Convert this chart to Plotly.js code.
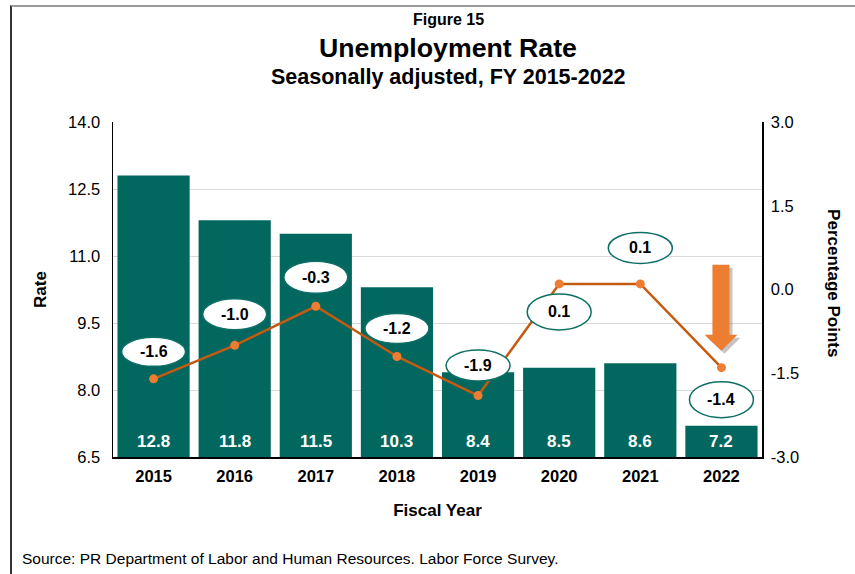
<!DOCTYPE html>
<html>
<head>
<meta charset="utf-8">
<script src="https://cdn.plot.ly/plotly-3.0.1.min.js"></script>
<style>
  html, body { margin: 0; padding: 0; background: #ffffff; }
  #wrap { position: relative; width: 855px; height: 574px; overflow: hidden; }
  #chart { width: 855px; height: 574px; }
  #frame { position: absolute; left: 10px; top: 5px; width: 900px; height: 600px;
           border-top: 2px solid #9a9a9a; border-left: 2px solid #333333; pointer-events: none; }
</style>
</head>
<body>
<div id="wrap">
  <div id="chart"></div>
  <div id="frame"></div>
</div>
<script>
// ---- Data ----
var years = ['2015', '2016', '2017', '2018', '2019', '2020', '2021', '2022'];
var rate = [12.8, 11.8, 11.5, 10.3, 8.4, 8.5, 8.6, 7.2];
var change = [-1.6, -1.0, -0.3, -1.2, -1.9, 0.1, 0.1, -1.4];
var rateTicks = [6.5, 8.0, 9.5, 11.0, 12.5, 14.0];
var rateTickText = ['6.5', '8.0', '9.5', '11.0', '12.5', '14.0'];
var changeTicks = [-3.0, -1.5, 0.0, 1.5, 3.0];
var changeTickText = ['-3.0', '-1.5', '0.0', '1.5', '3.0'];
// label placement (pixels above (+) / below (-) each point) and bubble heights
var labelShift = [27, 31, 29, 28, 30, -28, 36, -32];
var bubbleH = [29, 31, 32, 30, 31, 36, 31, 36];

var FONT = 'Liberation Sans, Arial, Helvetica, sans-serif';
var TEAL = '#02675f';
var LINE = '#c55a11';
var MARK = '#ed7d31';

var bars = {
  type: 'bar', x: years, y: rate, yaxis: 'y', name: 'Rate',
  marker: { color: TEAL, line: { width: 0 } },
  hoverinfo: 'x+y', showlegend: false
};
var line = {
  type: 'scatter', mode: 'lines+markers', x: years, y: change, yaxis: 'y2', name: 'Change',
  line: { color: LINE, width: 2.5 },
  marker: { color: MARK, size: 9 },
  showlegend: false
};

var shapes = [];
var annotations = [];

// bubble labels for the line
for (var i = 0; i < years.length; i++) {
  var h = bubbleH[i] / 2;
  shapes.push({
    type: 'circle', layer: 'above',
    xref: 'x', yref: 'y2', xsizemode: 'pixel', ysizemode: 'pixel',
    xanchor: i, yanchor: change[i],
    x0: -32, x1: 32, y0: labelShift[i] - h, y1: labelShift[i] + h,
    fillcolor: '#ffffff', line: { color: '#0e6f67', width: 1.5 }
  });
  annotations.push({
    xref: 'x', yref: 'y2', x: i, y: change[i], yshift: labelShift[i],
    text: '<b>' + change[i].toFixed(1) + '</b>', showarrow: false,
    font: { family: FONT, size: 16, color: '#000000' },
    xanchor: 'center', yanchor: 'middle'
  });
  // bar value labels
  annotations.push({
    xref: 'x', yref: 'y', x: i, y: rateTicks[0], yshift: 16,
    text: '<b>' + rate[i].toFixed(1) + '</b>', showarrow: false,
    font: { family: FONT, size: 17, color: '#ffffff' },
    xanchor: 'center', yanchor: 'middle'
  });
}

// big orange arrow above the last point (shadow + arrow)
var arrowPath = 'M -9 103 L 8 103 L 8 33 L 16 33 L 0 17 L -17 33 L -9 33 Z';
var shadowPath = 'M -6 100 L 11 100 L 11 30 L 19 30 L 3 14 L -14 30 L -6 30 Z';
var last = years.length - 1;
shapes.push({
  type: 'path', layer: 'above', xref: 'x', yref: 'y2', xsizemode: 'pixel', ysizemode: 'pixel',
  xanchor: last, yanchor: change[last], path: shadowPath,
  fillcolor: 'rgba(90,90,90,0.35)', line: { width: 0 }
});
shapes.push({
  type: 'path', layer: 'above', xref: 'x', yref: 'y2', xsizemode: 'pixel', ysizemode: 'pixel',
  xanchor: last, yanchor: change[last], path: arrowPath,
  fillcolor: MARK, line: { width: 0 }
});

// title lines
annotations.push({
  xref: 'paper', yref: 'paper', x: 0.5162, y: 1.3045, text: '<b>Figure 15</b>',
  showarrow: false, xanchor: 'center', yanchor: 'middle',
  font: { family: FONT, size: 16, color: '#000000' }
});
annotations.push({
  xref: 'paper', yref: 'paper', x: 0.5162, y: 1.1343, text: '<b>Seasonally adjusted, FY 2015-2022</b>',
  showarrow: false, xanchor: 'center', yanchor: 'middle',
  font: { family: FONT, size: 21.5, color: '#000000' }
});
// right axis title (reads top to bottom)
annotations.push({
  xref: 'paper', yref: 'paper', x: 1.111, y: 0.519, text: '<b>Percentage Points</b>',
  showarrow: false, textangle: 90, xanchor: 'center', yanchor: 'middle',
  font: { family: FONT, size: 17, color: '#000000' }
});
// source note
annotations.push({
  xref: 'paper', yref: 'paper', x: -0.1433, y: -0.3015,
  text: 'Source: PR Department of Labor and Human Resources. Labor Force Survey.',
  showarrow: false, xanchor: 'left', yanchor: 'middle',
  font: { family: FONT, size: 15.5, color: '#000000' }
});

var layout = {
  width: 855, height: 574,
  margin: { l: 113, r: 93, t: 122, b: 117, pad: 0 },
  paper_bgcolor: 'rgba(0,0,0,0)', plot_bgcolor: '#ffffff',
  font: { family: FONT, color: '#000000' },
  title: {
    text: '<b>Unemployment Rate</b>', x: 0.5239, xref: 'container', xanchor: 'center',
    y: 0.9164, yref: 'container', yanchor: 'middle',
    font: { family: FONT, size: 26.7, color: '#000000' }
  },
  bargap: 0.11,
  showlegend: false,
  xaxis: {
    type: 'category', categoryorder: 'array', categoryarray: years,
    showline: true, linecolor: '#000000', linewidth: 1.5,
    ticks: '', tickfont: { family: FONT, size: 16.5, color: '#000000', weight: 'bold' },
    ticklabelstandoff: 4,
    title: { text: '<b>Fiscal Year</b>', font: { family: FONT, size: 17, color: '#000000' }, standoff: 20 },
    fixedrange: true
  },
  yaxis: {
    range: [6.5, 14.0], tickvals: rateTicks, ticktext: rateTickText,
    showgrid: true, gridcolor: '#d9d9d9', gridwidth: 1, zeroline: false,
    showline: true, linecolor: '#000000', linewidth: 1.5, ticks: '',
    tickfont: { family: FONT, size: 16.5, color: '#000000' },
    ticklabelstandoff: 8,
    title: { text: '<b>Rate</b>', font: { family: FONT, size: 17, color: '#000000' }, standoff: 17 },
    fixedrange: true
  },
  yaxis2: {
    overlaying: 'y', side: 'right', range: [-3.0, 3.0],
    tickvals: changeTicks, ticktext: changeTickText,
    showgrid: false, zeroline: false,
    showline: true, linecolor: '#000000', linewidth: 1.5, ticks: '',
    tickfont: { family: FONT, size: 16.5, color: '#000000' },
    ticklabelstandoff: 4,
    fixedrange: true
  },
  shapes: shapes,
  annotations: annotations
};

Plotly.newPlot('chart', [bars, line], layout, { displayModeBar: false, staticPlot: true });
</script>
</body>
</html>
